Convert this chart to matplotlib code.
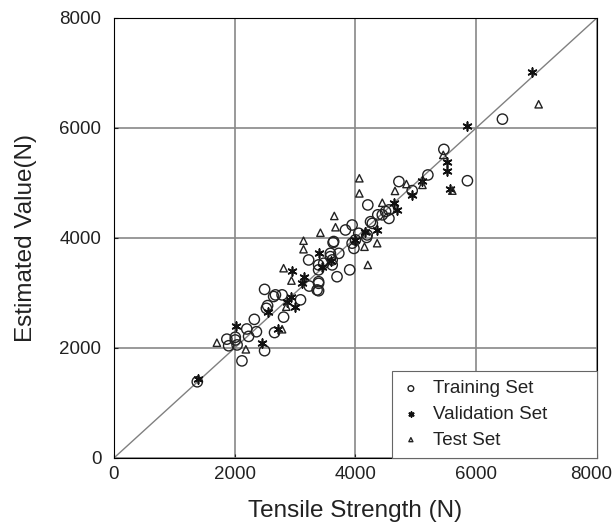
import numpy as np
import matplotlib.pyplot as plt
import matplotlib.transforms as mtransforms

plt.rcParams['font.family'] = ['Liberation Sans', 'DejaVu Sans']

# values (N)
train_x = [1380, 1900, 2040, 1870, 2010, 2010, 2120, 2230, 2200, 2360, 2325, 2495,
           2660, 2810, 2545, 2525, 2495, 2645, 2675, 2785, 3090, 3235, 3365, 3390,
           3390, 3225, 3390, 3475, 3585, 3615, 3615, 3585, 3695, 3725, 3630, 3835,
           3905, 3945, 3975, 3945, 4055, 4195, 4205, 4250, 4280, 4370, 4445, 4555,
           4500, 4555, 4720, 4940, 5200, 5465, 5855, 6435, 4000, 4185, 3390, 3640,
           3390]
train_y = [1385, 2040, 2055, 2160, 2145, 2195, 1765, 2210, 2345, 2295, 2520, 1950,
           2280, 2560, 2770, 2720, 3065, 2935, 2965, 2965, 2875, 3125, 3055, 3040,
           3175, 3600, 3420, 3540, 3660, 3600, 3510, 3720, 3295, 3720, 3915, 4145,
           3420, 4235, 3810, 3905, 4085, 4055, 4600, 4295, 4265, 4420, 4420, 4355,
           4480, 4510, 5025, 4860, 5145, 5610, 5040, 6160, 3965, 4010, 3510, 3935,
           3205]

val_x = [1400, 2025, 2460, 2720, 2545, 2865, 3005, 2940, 3115, 3390, 3450, 3140,
         2950, 4000, 4165, 4360, 4695, 4635, 6920, 5840, 5510, 5510, 5565, 5110,
         4940, 3600]
val_y = [1430, 2405, 2095, 2340, 2660, 2840, 2750, 2935, 3175, 3720, 3480, 3285,
         3405, 3965, 4115, 4145, 4510, 4630, 7020, 6035, 5385, 5225, 4885, 5040,
         4780, 3580]

test_x = [1705, 2185, 2785, 2855, 2940, 3650, 3670, 3420, 3140, 3140, 4150, 4360,
          4205, 2810, 4065, 4065, 4845, 4655, 4445, 5455, 5605, 5110, 7035]
test_y = [2095, 1975, 2340, 2750, 3225, 4400, 4195, 4095, 3950, 3795, 3840, 3905,
          3510, 3450, 5085, 4810, 4980, 4855, 4640, 5510, 4860, 4965, 6430]

fig = plt.figure(figsize=(6.16, 5.27), dpi=100)
ax = fig.add_axes([0.185, 0.131, 0.784, 0.835])

ax.plot([0, 8000], [0, 8000], color='#808080', lw=1.0, zorder=1)

ax.scatter(train_x, train_y, s=55, facecolors='none', edgecolors='#222222',
           linewidths=1.0, label='Training Set', zorder=3)
ax.scatter(val_x, val_y, s=40, marker=(6, 2, 0), color='#111111',
           linewidths=1.2, label='Validation Set', zorder=3)
ax.scatter(test_x, test_y, s=28, marker='^', facecolors='none', edgecolors='#222222',
           linewidths=1.0, label='Test Set', zorder=3)

ax.set_xlim(0, 8000)
ax.set_ylim(0, 8000)
ax.set_xticks(np.arange(0, 8001, 2000))
ax.set_yticks(np.arange(0, 8001, 2000))
ax.grid(True, color='#888888', lw=1.2)
ax.set_axisbelow(True)
ax.tick_params(direction='in', length=3, labelsize=13.5, colors='#222222')
ax.tick_params(axis='y', pad=9)
ax.tick_params(axis='x', pad=6)

# keep the last x label inside the figure
last = ax.get_xticklabels()[-1]
last.set_transform(last.get_transform() +
                   mtransforms.ScaledTranslation(-6 / 100, 0, fig.dpi_scale_trans))

ax.set_xlabel('Tensile Strength (N)', fontsize=17.5, labelpad=12, color='#222222')
ax.set_ylabel('Estimated Value(N)', fontsize=17.5, labelpad=16, color='#222222')

leg = ax.legend(loc='lower left', bbox_to_anchor=(0.576, 0, 0.424, 0.2),
                mode='expand', fontsize=13.5, markerscale=0.55, fancybox=False,
                edgecolor='#666666', framealpha=1, borderaxespad=0,
                handlelength=1.0, handletextpad=0.7, borderpad=0.5, labelspacing=0.45)
leg.get_frame().set_linewidth(0.8)
for t in leg.get_texts():
    t.set_color('#222222')

fig.savefig('out.png', dpi=100)
